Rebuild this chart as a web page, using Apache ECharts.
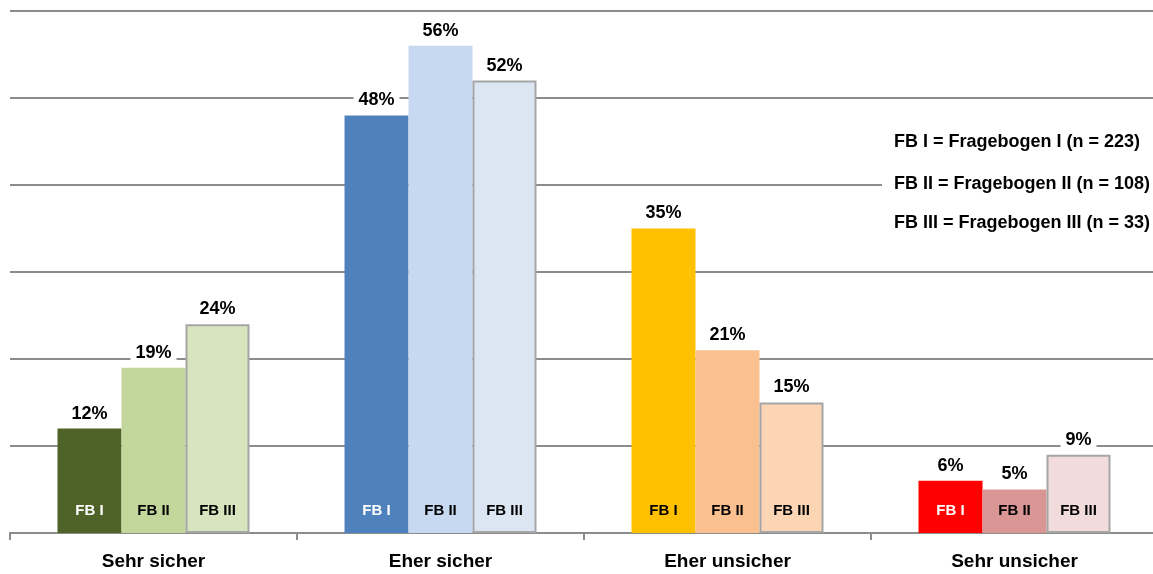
<!DOCTYPE html>
<html>
<head>
<meta charset="utf-8">
<script src="https://cdn.jsdelivr.net/npm/echarts@6/dist/echarts.min.js"></script>
<style>html,body{margin:0;padding:0;background:#fff}#c{width:1153px;height:574px}</style>
</head>
<body>
<div id="c"></div>
<script>
const categories = ['Sehr sicher', 'Eher sicher', 'Eher unsicher', 'Sehr unsicher'];
const seriesNames = ['FB I', 'FB II', 'FB III'];
const fb1 = [12, 48, 35, 6];
const fb2 = [19, 56, 21, 5];
const fb3 = [24, 52, 15, 9];
const yTicks = [0, 10, 20, 30, 40, 50, 60];
const legendLines = [
  'FB I = Fragebogen I (n = 223)',
  'FB II = Fragebogen II (n = 108)',
  'FB III = Fragebogen III (n = 33)'
];

const colors1 = ['#4F6228', '#4F81BD', '#FFC000', '#FF0000'];
const colors2 = ['#C3D69B', '#C6D9F1', '#FAC090', '#D99694'];
const colors3 = ['#D7E4BD', '#DCE6F2', '#FCD5B5', '#F2DCDB'];
const insideText1 = ['#FFFFFF', '#FFFFFF', '#000000', '#FFFFFF'];

const FONT = 'Liberation Sans';
const values = [fb1, fb2, fb3];
const palettes = [colors1, colors2, colors3];

const valueSeries = values.map((vals, s) => ({
  type: 'bar',
  name: seriesNames[s],
  xAxisIndex: 0,
  barWidth: 64,
  barGap: '0%',
  data: vals.map((v, i) => ({
    value: v,
    itemStyle: {
      color: palettes[s][i],
      borderColor: s === 2 ? '#A6A6A6' : palettes[s][i],
      borderWidth: s === 2 ? 2 : 0
    }
  })),
  label: {
    show: true,
    position: 'top',
    distance: 4,
    formatter: '{c}%',
    fontFamily: FONT,
    fontWeight: 'bold',
    fontSize: 18,
    color: '#000',
    backgroundColor: '#fff',
    padding: [2, 5, 2, 5]
  },
  z: 3
}));

const nameSeries = values.map((vals, s) => ({
  type: 'bar',
  name: seriesNames[s] + ' label',
  xAxisIndex: 1,
  barWidth: 64,
  barGap: '0%',
  silent: true,
  itemStyle: { color: 'rgba(0,0,0,0)' },
  data: vals.map((v, i) => ({
    value: v,
    label: { color: s === 0 ? insideText1[i] : '#000' }
  })),
  label: {
    show: true,
    position: 'insideBottom',
    distance: 15,
    formatter: seriesNames[s],
    fontFamily: FONT,
    fontWeight: 'bold',
    fontSize: 15
  },
  z: 4
}));

const chart = echarts.init(document.getElementById('c'), null, { renderer: 'canvas' });
chart.setOption({
  animation: false,
  backgroundColor: '#fff',
  grid: { left: 10, top: 11, width: 1148, height: 522, containLabel: false, outerBoundsMode: 'none' },
  xAxis: [
    {
      type: 'category',
      data: categories,
      axisLine: { lineStyle: { color: '#8C8C8C', width: 2 } },
      axisTick: { show: true, length: 7, lineStyle: { color: '#8C8C8C', width: 2 } },
      axisLabel: { fontFamily: FONT, fontWeight: 'bold', fontSize: 19, color: '#000', margin: 19 },
      z: 2
    },
    {
      type: 'category',
      data: categories,
      show: false
    }
  ],
  yAxis: {
    type: 'value',
    min: yTicks[0],
    max: yTicks[yTicks.length - 1],
    interval: yTicks[1] - yTicks[0],
    axisLine: { show: false },
    axisTick: { show: false },
    axisLabel: { show: false },
    splitLine: { lineStyle: { color: '#8C8C8C', width: 2 } }
  },
  graphic: legendLines.map((t, i) => ({
    type: 'text',
    left: 882,
    top: [130, 172, 211][i],
    z: 10,
    style: {
      text: t,
      fontFamily: FONT,
      fontWeight: 'bold',
      fontSize: 18,
      fill: '#000',
      backgroundColor: '#fff',
      padding: [3, 20, 3, 12]
    }
  })),
  series: valueSeries.concat(nameSeries)
});
</script>
</body>
</html>
